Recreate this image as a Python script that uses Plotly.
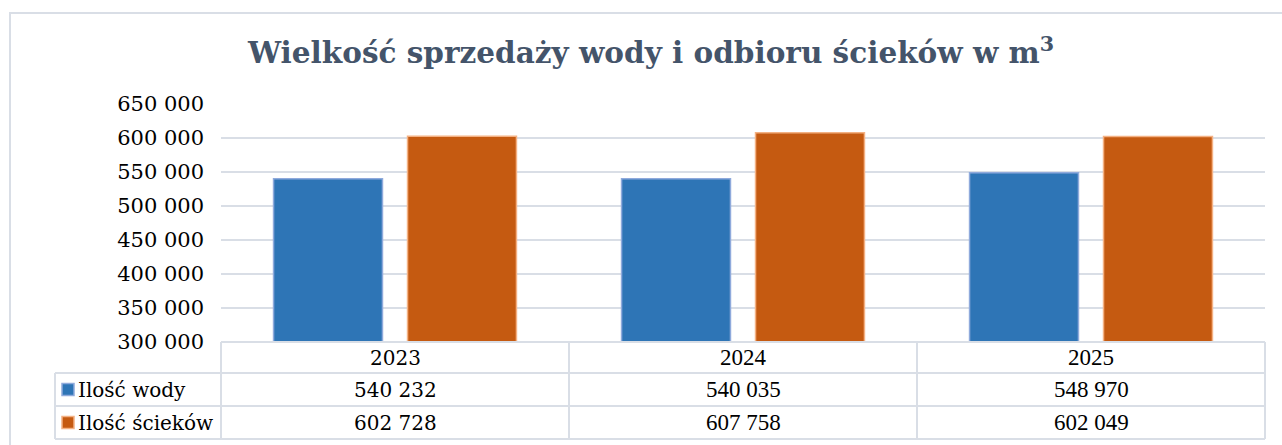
import plotly.graph_objects as go

# Data
years = ["2023", "2024", "2025"]
water = [540232, 540035, 548970]
sewage = [602728, 607758, 602049]
series_names = ["Ilość wody", "Ilość ścieków"]

BLUE = "#2E75B6"
BLUE_EDGE = "#8FAADC"
ORANGE = "#C55A11"
ORANGE_EDGE = "#F4B183"
GRID = "#D9DEE6"
TITLE_COLOR = "#44546A"

W, H = 1282, 445
L, R, T, B = 221, 1265, 104, 342  # plot area in pixels


def px(x):
    return (x - L) / (R - L)


def py(y):
    return (B - y) / (B - T)


def fmt(v):
    return f"{v:,}".replace(",", " ")


fig = go.Figure()
fig.add_bar(x=years, y=water, name=series_names[0], marker=dict(color=BLUE, line=dict(color=BLUE_EDGE, width=1.5)))
fig.add_bar(x=years, y=sewage, name=series_names[1], marker=dict(color=ORANGE, line=dict(color=ORANGE_EDGE, width=1.5)))

shapes = []
# outer chart frame
shapes.append(dict(type="rect", xref="paper", yref="paper", x0=px(10), x1=px(1300), y0=py(460), y1=py(13),
                   line=dict(color=GRID, width=2), layer="below"))

# data table grid
def hline(x0, x1, y):
    shapes.append(dict(type="line", xref="paper", yref="paper", x0=px(x0), x1=px(x1), y0=py(y), y1=py(y),
                       line=dict(color=GRID, width=2)))


def vline(x, y0, y1):
    shapes.append(dict(type="line", xref="paper", yref="paper", x0=px(x), x1=px(x), y0=py(y0), y1=py(y1),
                       line=dict(color=GRID, width=2)))


hline(L, R, 342)
hline(55, R, 373)
hline(55, R, 406)
hline(55, R, 439)
vline(55, 373, 439)
col_edges = [L + i * (R - L) / 3 for i in range(4)]
for cx in col_edges:
    vline(cx, 342, 439)

# legend keys in the table
for (yc, fill, edge) in [(389.5, BLUE, BLUE_EDGE), (422.5, ORANGE, ORANGE_EDGE)]:
    shapes.append(dict(type="rect", xref="paper", yref="paper", x0=px(62), x1=px(74), y0=py(yc + 6), y1=py(yc - 6),
                       fillcolor=fill, line=dict(color=edge, width=1.5)))

annotations = []
annotations.append(dict(text="<b>Wielkość sprzedaży wody i odbioru ścieków w m<sup>3</sup></b>", xref="paper", yref="paper",
                        x=px(650), y=py(51), showarrow=False, xanchor="center", yanchor="middle",
                        font=dict(family="DejaVu Serif", size=29.5, color=TITLE_COLOR)))

row_centers = [357.5, 389.5, 422.5]
for i, yr in enumerate(years):
    fam = "DejaVu Serif" if i == 0 else "Liberation Serif"
    sz = 20 if i == 0 else 23
    cx = (col_edges[i] + col_edges[i + 1]) / 2
    for text, yc in [(yr, row_centers[0]), (fmt(water[i]), row_centers[1]), (fmt(sewage[i]), row_centers[2])]:
        annotations.append(dict(text=text, xref="paper", yref="paper", x=px(cx), y=py(yc), showarrow=False,
                                xanchor="center", yanchor="middle", font=dict(family=fam, size=sz, color="#000000")))

for name, yc in zip(series_names, row_centers[1:]):
    annotations.append(dict(text=name, xref="paper", yref="paper", x=px(76), y=py(yc), showarrow=False,
                            xanchor="left", yanchor="middle", font=dict(family="DejaVu Serif", size=20, color="#000000")))

fig.update_layout(
    width=W, height=H,
    margin=dict(l=L, r=W - R, t=T, b=H - B, pad=0),
    paper_bgcolor="white", plot_bgcolor="white",
    barmode="group", bargap=0.23, bargroupgap=0.187,
    showlegend=False,
    separators=", ",
    shapes=shapes, annotations=annotations,
    xaxis=dict(showticklabels=False, showgrid=False, zeroline=False, showline=False, ticks=""),
    yaxis=dict(range=[300000, 650000], dtick=50000, tickformat=",d", showgrid=True, gridcolor=GRID, gridwidth=2,
               zeroline=False, showline=False, ticks="", ticklabelstandoff=16,
               tickfont=dict(family="DejaVu Serif", size=21, color="#000000")),
)

fig.write_html("out.html")
